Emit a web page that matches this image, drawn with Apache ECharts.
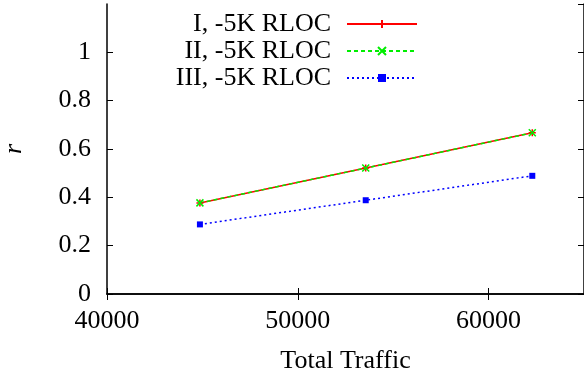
<!DOCTYPE html>
<html><head><meta charset="utf-8">
<script src="https://cdn.jsdelivr.net/npm/echarts@6/dist/echarts.min.js"></script>
<style>html,body{margin:0;padding:0;background:#fff}#c{width:584px;height:376px}</style>
</head><body><div id="c"></div>
<script>
const traffic = [44870, 53560, 62290];
const seriesNames = ['I, -5K RLOC', 'II, -5K RLOC', 'III, -5K RLOC'];
const rI = [0.377, 0.521, 0.667];
const rII = [0.377, 0.521, 0.667];
const rIII = [0.288, 0.388, 0.489];
const xTicks = [40000, 50000, 60000];
const yTicks = [0, 0.2, 0.4, 0.6, 0.8, 1];

const font = "'Liberation Serif', 'Times New Roman', Times, serif";
const pairs = v => traffic.map((x, i) => [x, v[i]]);
const chart = echarts.init(document.getElementById('c'), null, {renderer: 'canvas'});
const axisLine = {show: true, lineStyle: {color: '#000', width: 1.5}};
const tick = {show: true, inside: true, length: 6, lineStyle: {color: '#000', width: 1}};
chart.setOption({
  animation: false,
  backgroundColor: '#fff',
  grid: {left: 107, right: 0, top: 4, bottom: 82, outerBoundsMode: 'none', containLabel: false},
  legend: {
    orient: 'vertical', right: 166, top: 11, align: 'right', padding: 0,
    itemWidth: 70, itemHeight: 10, itemGap: 1,
    textStyle: {fontFamily: font, fontSize: 26, color: '#000', lineHeight: 26, padding: [0, 11, 0, 0]},
    data: seriesNames
  },
  xAxis: [{
    type: 'value', min: 40000, max: 65000, interval: 10000,
    axisLine, axisTick: tick, splitLine: {show: false},
    axisLabel: {fontFamily: font, fontSize: 26, color: '#000', margin: 14, showMaxLabel: false,
      formatter: v => xTicks.includes(v) ? String(v) : ''},
    name: 'Total Traffic', nameLocation: 'middle', nameGap: 54,
    nameTextStyle: {fontFamily: font, fontSize: 26, color: '#000'}
  }, {
    type: 'value', position: 'top', min: 40000, max: 65000, interval: 10000,
    axisLine, axisTick: tick, axisLabel: {show: false}, splitLine: {show: false}
  }],
  yAxis: [{
    type: 'value', min: 0, max: 1.2, interval: 0.2,
    axisLine, axisTick: tick, splitLine: {show: false},
    axisLabel: {fontFamily: font, fontSize: 26, color: '#000', margin: 16, showMaxLabel: false,
      formatter: v => { const t = yTicks.find(y => Math.abs(y - v) < 1e-6); return t === undefined ? '' : String(t); }},
    name: 'r', nameLocation: 'middle', nameGap: 80,
    nameTextStyle: {fontFamily: font, fontSize: 26, fontStyle: 'italic', color: '#000'}
  }, {
    type: 'value', position: 'right', min: 0, max: 1.2, interval: 0.2,
    axisLine, axisTick: tick, axisLabel: {show: false}, splitLine: {show: false}
  }],
  series: [{
    name: seriesNames[0], type: 'line', data: pairs(rI),
    symbol: 'path://M0,-1L0,1M-1,0L1,0', symbolSize: 7,
    lineStyle: {color: '#ff0000', width: 1.5, type: 'solid'},
    itemStyle: {color: '#ff0000', borderColor: '#ff0000', borderWidth: 1.5}
  }, {
    name: seriesNames[1], type: 'line', data: pairs(rII),
    symbol: 'path://M-1,-1L1,1M-1,1L1,-1', symbolSize: 7,
    lineStyle: {color: '#00ee00', width: 1.5, type: [4, 3]},
    itemStyle: {color: '#00ee00', borderColor: '#00ee00', borderWidth: 1.5}
  }, {
    name: seriesNames[2], type: 'line', data: pairs(rIII),
    symbol: 'rect', symbolSize: 6,
    lineStyle: {color: '#0000ff', width: 1.5, type: [2, 3]},
    itemStyle: {color: '#0000ff', borderColor: '#0000ff', borderWidth: 0}
  }]
});
</script></body></html>
